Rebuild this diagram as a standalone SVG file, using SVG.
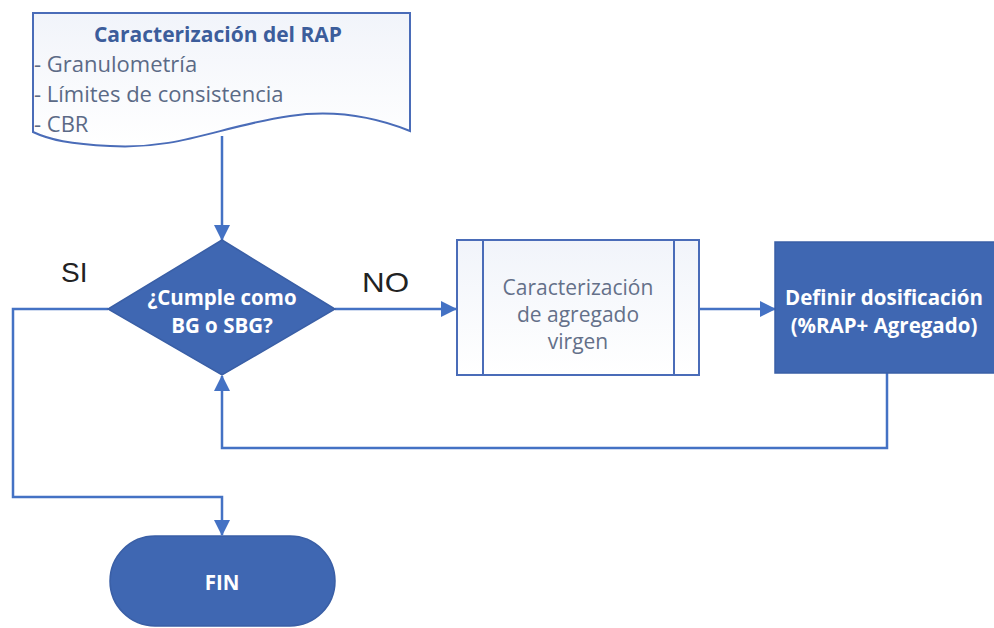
<svg xmlns="http://www.w3.org/2000/svg" width="994" height="628" viewBox="0 0 994 628">
  <defs>
    <linearGradient id="paleFill" x1="0" y1="0" x2="0" y2="1">
      <stop offset="0" stop-color="#f1f4fa"/>
      <stop offset="1" stop-color="#ffffff"/>
    </linearGradient>
    <marker id="arrow" markerWidth="16" markerHeight="16" refX="15" refY="8" orient="auto" markerUnits="userSpaceOnUse">
      <path d="M0,0 L16,8 L0,16 Z" fill="#4472c4"/>
    </marker>
    <style>
      .conn { fill: none; stroke: #4472c4; stroke-width: 2.5; }
      .outline { fill: url(#paleFill); stroke: #4a6cb8; stroke-width: 2; }
      .solid { fill: #3f67b2; stroke: #3a5fa6; stroke-width: 1.5; }
      .title { font-family: "Open Sans", "Noto Sans", sans-serif; font-weight: bold; font-size: 21px; fill: #3c5d9b; }
      .item { font-family: "Open Sans", "Noto Sans", sans-serif; font-size: 22px; fill: #5b6a86; }
      .light { font-family: "Open Sans", "Noto Sans", sans-serif; font-size: 21px; fill: #647089; text-anchor: middle; }
      .white { font-family: "Open Sans", "Noto Sans", sans-serif; font-weight: bold; font-size: 20.5px; fill: #ffffff; text-anchor: middle; }
      .label { font-family: "Liberation Sans", Arial, sans-serif; font-size: 28px; fill: #222222; }
    </style>
  </defs>

  <rect width="994" height="628" fill="#ffffff"/>

  <!-- connectors -->
  <g id="connectors">
    <path class="conn" d="M222,136 L222,240" marker-end="url(#arrow)"/>
    <path class="conn" d="M335,309 L456,309" marker-end="url(#arrow)"/>
    <path class="conn" d="M699,309 L775,309" marker-end="url(#arrow)"/>
    <path class="conn" d="M887,373 L887,448 L222,448 L222,376" marker-end="url(#arrow)"/>
    <path class="conn" d="M108,309 L13,309 L13,497 L222,497 L222,535" marker-end="url(#arrow)"/>
    <text class="label" x="61" y="282">SI</text>
    <text class="label" x="362" y="292" textLength="47" lengthAdjust="spacingAndGlyphs">NO</text>
  </g>

  <!-- document: RAP characterisation -->
  <g id="doc-rap">
    <path class="outline" d="M33,13 L410,13 L410,131 C370,115 330,110 290,116 C220,126 180,150 110,146 C70,144 50,140 33,132 Z"/>
    <text class="title" x="218" y="42" text-anchor="middle">Caracterización del RAP</text>
    <text class="item" x="34" y="72">- Granulometría</text>
    <text class="item" x="34" y="102">- Límites de consistencia</text>
    <text class="item" x="34" y="132">- CBR</text>
  </g>

  <!-- decision -->
  <g id="decision">
    <path class="solid" d="M222,240 L335,309 L222,375 L108,309 Z"/>
    <text class="white" x="222" y="305">¿Cumple como</text>
    <text class="white" x="222" y="333">BG o SBG?</text>
  </g>

  <!-- predefined process -->
  <g id="subprocess">
    <rect class="outline" x="457" y="240" width="242" height="135"/>
    <line x1="483" y1="240" x2="483" y2="375" stroke="#4a6cb8" stroke-width="2"/>
    <line x1="674" y1="240" x2="674" y2="375" stroke="#4a6cb8" stroke-width="2"/>
    <text class="light" x="578" y="295">Caracterización</text>
    <text class="light" x="578" y="322">de agregado</text>
    <text class="light" x="578" y="349">virgen</text>
  </g>

  <!-- dosage process -->
  <g id="dosage">
    <rect class="solid" x="775" y="242" width="222" height="131"/>
    <text class="white" x="884" y="305" font-size="21.5">Definir dosificación</text>
    <text class="white" x="884" y="333" font-size="21.5">(%RAP+ Agregado)</text>
  </g>

  <!-- terminator -->
  <g id="fin">
    <rect class="solid" x="110" y="536" width="225" height="90" rx="45" ry="45"/>
    <text class="white" x="222" y="590" font-size="17">FIN</text>
  </g>
</svg>
